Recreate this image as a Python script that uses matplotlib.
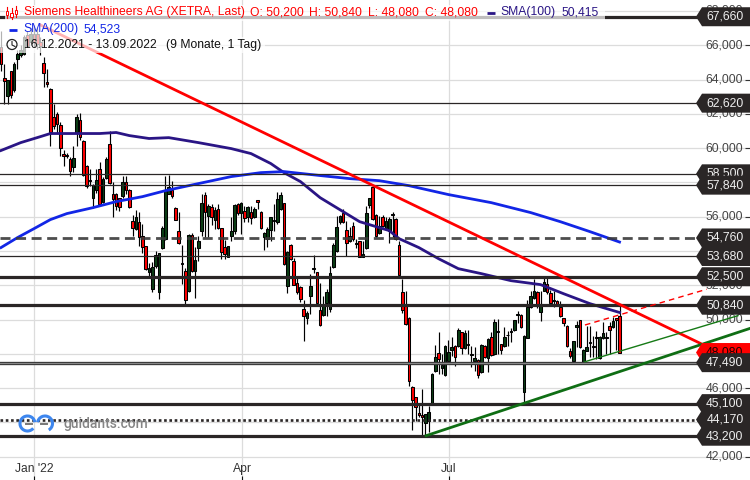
import matplotlib
matplotlib.use('Agg')
import matplotlib.pyplot as plt
from matplotlib.patches import Arc, Circle, Polygon, Rectangle

plt.rcParams['font.family'] = ['Liberation Sans', 'DejaVu Sans']

# daily candles, one value per trading day, 16.12.2021 - 13.09.2022
opens = [
    65890, 64100, 63010, 64490, 63360, 65200, 65400, 65500, 66570, 66180,
    66660, 66660, 66200, 64970, 63880, 63450, 61800, 62000, 61370, 59660,
    59620, 59370, 58880, 60870, 61610, 60440, 58960, 58140, 57080, 57560,
    58790, 56840, 58240, 60210, 57330, 57330, 57090, 57230, 58030, 57560,
    55770, 55290, 55690, 54880, 54290, 52800, 51780, 53150, 51590, 54180,
    54700, 57330, 57560, 56510, 55190, 53240, 52850, 51650, 54930, 52850,
    54150, 55190, 57290, 56060, 56550, 55810, 56450, 55340, 54220, 53670,
    54900, 55150, 56740, 56200, 56360, 55970, 56260, 55970, 56980, 56280,
    54800, 54700, 55230, 55770, 55670, 56450, 56800, 51940, 54370, 53420,
    52120, 51880, 50620, 50070, 51360, 52930, 52780, 50560, 50270, 50950,
    50620, 53050, 53980, 55670, 56200, 55230, 54600, 55480, 54390, 54570,
    53670, 54180, 56710, 57720, 56120, 55030, 55970, 55340, 55150, 56100,
    55870, 54370, 51630, 50910, 50090, 46090, 45460, 44550, 44450, 43950,
    44100, 45130, 47020, 48050, 47160, 46770, 47600, 48250, 48480, 48480,
    49260, 48340, 48500, 47910, 47600, 47640, 46920, 48480, 47760, 49000,
    47990, 49280, 48580, 48440, 49080, 49280, 49410, 50290, 50270, 45760,
    48930, 50710, 51240, 51590, 50420, 51690, 52080, 51550, 51070, 51100,
    50710, 50090, 49650, 48190, 47600, 49550, 49980, 47510, 48190, 48610,
    48420, 48910, 47760, 48910, 48930, 49650, 49550, 50090, 50200,
]
highs = [
    66800, 64910, 63980, 64490, 65000, 65700, 66000, 66600, 66800, 67000,
    67200, 67000, 66500, 65300, 64620, 63500, 62580, 62100, 61500, 59900,
    59700, 59500, 60150, 62000, 62050, 60500, 59000, 58790, 57900, 58790,
    59200, 58300, 59500, 61020, 58010, 57400, 57100, 58400, 58400, 57600,
    56120, 56390, 56260, 55580, 54300, 53280, 53340, 53980, 53900, 55480,
    58400, 58440, 58110, 56550, 56260, 54350, 53000, 55000, 55030, 54220,
    54900, 57330, 57430, 56740, 56740, 56590, 56740, 55340, 54640, 54290,
    55970, 56740, 56800, 56840, 56650, 56650, 56650, 56590, 57000, 56360,
    55130, 55380, 56000, 56740, 57460, 57430, 56800, 54000, 54410, 53590,
    52500, 51980, 51140, 50480, 52660, 53790, 52800, 52120, 51400, 51780,
    53150, 54450, 56060, 56100, 56450, 55770, 55420, 55670, 54700, 54600,
    54600, 56650, 57100, 57810, 56150, 56060, 56120, 56000, 56000, 56260,
    55900, 54570, 52370, 51650, 50130, 46150, 45500, 45070, 45950, 44500,
    44980, 46900, 48520, 49300, 47990, 48500, 48810, 49000, 48500, 49510,
    49300, 49390, 49390, 48480, 48380, 47700, 48600, 48500, 48910, 49300,
    50030, 50030, 48600, 49550, 49350, 49510, 50000, 50480, 50300, 49100,
    51140, 51690, 52370, 51650, 51650, 52430, 52430, 51750, 51690, 51150,
    51100, 50100, 49700, 48340, 48770, 49940, 50000, 48300, 49650, 49650,
    49060, 49310, 49050, 49840, 49260, 49840, 50130, 50100, 50840,
]
lows = [
    64500, 62580, 62580, 62950, 63300, 64620, 65300, 65400, 65900, 66000,
    65900, 65800, 65400, 63550, 63550, 60150, 61100, 60900, 59560, 58980,
    59400, 58360, 58590, 60110, 60500, 58400, 57700, 57810, 56510, 57370,
    56700, 56800, 58200, 57900, 56000, 56400, 56350, 57100, 57300, 56500,
    54900, 55200, 54310, 53870, 52900, 52400, 51590, 53000, 51200, 54100,
    54650, 57300, 57100, 55800, 54400, 52080, 50910, 51600, 52800, 51240,
    53400, 54900, 54800, 54800, 55500, 55290, 55300, 53540, 53540, 53650,
    54600, 54990, 56100, 54990, 55670, 55670, 55580, 55900, 56450, 55300,
    54080, 54220, 54570, 55150, 55600, 56400, 53200, 51530, 53500, 52000,
    51500, 51010, 48770, 49740, 50330, 52700, 50900, 49650, 50200, 50230,
    50420, 53000, 53950, 55600, 55650, 53730, 54500, 54600, 54200, 53650,
    53650, 54100, 56500, 55800, 54800, 55000, 55400, 55300, 54450, 54840,
    54650, 52550, 50360, 49700, 46140, 43560, 44100, 44300, 43130, 43190,
    43460, 45100, 46950, 46820, 46820, 46700, 47550, 47900, 47270, 48400,
    47990, 48300, 48000, 47210, 47000, 46590, 46900, 47750, 46920, 47900,
    47950, 47990, 47990, 48400, 48480, 48700, 49350, 49800, 49500, 45170,
    48900, 50650, 51200, 50700, 49940, 51650, 51500, 50900, 50710, 50780,
    50150, 49650, 48400, 47760, 47500, 48380, 48350, 47490, 48150, 47800,
    47800, 47700, 47700, 48850, 47990, 47990, 49500, 48200, 48080,
]
closes = [
    64910, 63940, 63980, 63070, 64910, 65500, 65700, 66470, 65980, 66660,
    66180, 66080, 65950, 64370, 63750, 60950, 61300, 61410, 60010, 59550,
    59550, 58690, 59430, 61840, 60670, 58440, 57810, 58070, 57870, 58140,
    56740, 58200, 59370, 57950, 57020, 56650, 56550, 58030, 57560, 56550,
    55340, 56000, 54840, 54220, 52950, 53000, 53090, 53770, 53890, 55320,
    57520, 57750, 57190, 55810, 54450, 53300, 51140, 54930, 52850, 53480,
    54600, 56820, 56260, 56650, 56010, 56390, 55320, 53920, 53830, 54290,
    55190, 56690, 56200, 56780, 55910, 56590, 55930, 56450, 56840, 55340,
    55030, 55310, 56000, 55810, 57040, 57290, 53240, 53960, 53540, 52040,
    51590, 51180, 50190, 50380, 51960, 53010, 50950, 49680, 50810, 51590,
    52720, 54370, 55420, 56060, 55670, 54450, 54900, 54700, 54470, 53670,
    53830, 56220, 57090, 55870, 54860, 55480, 55480, 55770, 55870, 56160,
    54700, 52620, 50560, 49740, 46440, 45310, 44880, 44430, 44300, 44490,
    44630, 46820, 47840, 47700, 47350, 48480, 48130, 48420, 47800, 49390,
    48340, 49220, 48580, 47990, 47760, 46790, 48540, 47800, 48870, 47930,
    49880, 49350, 48230, 49000, 49120, 49330, 49980, 50330, 49550, 49040,
    50710, 51400, 51690, 50810, 50910, 52210, 51590, 50950, 51140, 50810,
    50190, 49820, 48440, 47890, 48730, 49700, 48380, 48240, 48420, 48710,
    48480, 49000, 49000, 49240, 48980, 49410, 49900, 49980, 48080,
]

# moving averages, read at a few days along the line
sma100_days = [0, 6, 12, 15, 30, 35, 39, 45, 51, 60, 70, 76, 82, 86, 91, 97,
               103, 109, 118, 121, 127, 133, 139, 146, 155, 164, 171, 179, 188]
sma100 = [59860, 60320, 60670, 60850, 60850, 60910, 60730, 60560, 60610, 60320,
          59970, 59680, 59100, 58570, 58050, 57110, 56410, 55710, 55190, 54720,
          54200, 53550, 52970, 52680, 52270, 52040, 51510, 50930, 50415]
sma200_days = [0, 5, 10, 15, 20, 28, 35, 43, 50, 60, 70, 79, 86, 97, 106, 115,
               124, 136, 149, 161, 170, 179, 188]
sma200 = [54200, 54780, 55300, 55830, 56180, 56530, 56880, 57170, 57520, 57930,
          58340, 58570, 58630, 58400, 58220, 58100, 57810, 57290, 56820, 56240,
          55710, 55130, 54523]

# horizontal levels, top to bottom
level_prices = [67660, 62620, 58500, 57840, 54760, 53680, 52500, 50840, 47490, 45100, 44170, 43200]
level_labels = ['67,660', '62,620', '58,500', '57,840', '54,760', '53,680', '52,500', '50,840',
                '47,490', '45,100', '44,170', '43,200']
thin_levels = [62620, 58500, 57840, 53680]
thick_levels = [67660, 52500, 50840, 45100, 43200]

last_price = 48080
last_label = '48,080'

y_ticks = [68000, 66000, 64000, 62000, 60000, 58000, 56000, 54000, 52000, 50000, 48000, 46000, 44000, 42000]
y_labels = ['68,000', '66,000', '64,000', '62,000', '60,000', '58,000', '56,000', '54,000',
            '52,000', '50,000', '48,000', '46,000', '44,000', '42,000']
x_ticks = [10.1, 73.4, 136.1]
x_labels = ["Jan '22", 'Apr', 'Jul']

# trend lines as (day, price) pairs
red_days, red_prices = [12, 212.5], [67180, 48620]
red_dash_days, red_dash_prices = [177.5, 214.5], [49685, 51770]
green_thin_days, green_thin_prices = [177.5, 224], [47545, 50230]
green_thick_days, green_thick_prices = [129.2, 227.7], [43230, 49490]

c_red = '#ff0000'
c_green = '#0b3d14'
c_sma100 = '#2a1585'
c_sma200 = '#1226e6'
c_dark = '#2a2626'

# scale of the picture in pixels
PX_PER_DAY = 3.29
PX_PER_UNIT = 0.01715


def y_px(price):
    return 45.2 + (66000 - price) * PX_PER_UNIT


fig = plt.figure(figsize=(7.5, 4.8), dpi=100)
ax = fig.add_axes([0, 0, 1, 1])
ax.set_xlim(-1 / PX_PER_DAY, (750 - 1) / PX_PER_DAY)
ax.set_ylim(66000 - (480 - 45.2) / PX_PER_UNIT, 66000 + 45.2 / PX_PER_UNIT)

for s in ax.spines.values():
    s.set_visible(False)
ax.set_axisbelow(True)
ax.grid(True, color='#dcdcdc', linewidth=0.9)
ax.yaxis.tick_right()
ax.set_yticks(y_ticks)
ax.set_yticklabels(y_labels, fontsize=8.7, color='#444444', ha='right', va='center')
ax.set_xticks(x_ticks)
ax.set_xticklabels(x_labels, fontsize=8.7, color='#333333', va='bottom')
ax.tick_params(axis='y', direction='in', length=3.5, width=0.8, color='#333333', pad=-5)
ax.tick_params(axis='x', direction='in', length=3, width=0.8, color='#111111', pad=-3.8)

# candles
days = list(range(len(opens)))
ax.vlines(days, lows, highs, color='black', linewidth=0.85, zorder=3)
tops = [max(o, c) for o, c in zip(opens, closes)]
bottoms = [min(o, c) for o, c in zip(opens, closes)]
colors = [c_red if c < o else c_green for o, c in zip(opens, closes)]
ax.bar(days, [t - b for t, b in zip(tops, bottoms)], bottom=bottoms, width=0.8,
       color=colors, edgecolor='black', linewidth=0.75, zorder=3)

ax.plot(sma100_days, sma100, color=c_sma100, linewidth=2.0, zorder=4)
ax.plot(sma200_days, sma200, color=c_sma200, linewidth=2.0, zorder=4)

# levels
for p in level_prices:
    if p in thin_levels:
        ax.axhline(p, color=c_dark, linewidth=0.9, zorder=5)
    elif p in thick_levels:
        ax.axhline(p, color=c_dark, linewidth=2.3, zorder=5)
    elif p == 54760:
        ax.axhline(p, color='#3a3a3a', linewidth=2.0, dashes=(3.6, 2.0), alpha=0.9, zorder=5)
    elif p == 44170:
        ax.axhline(p, color=c_dark, linewidth=1.9, dashes=(1.0, 1.0), zorder=5)
    else:
        ax.axhline(p, color='#3c3c3c', linewidth=2.4, zorder=5)
        ax.axhline(p, color='#8a8a8a', linewidth=0.7, zorder=5)

ax.plot(red_days, red_prices, color=c_red, linewidth=2.0, zorder=6)
ax.plot(red_dash_days, red_dash_prices, color=c_red, linewidth=1.0, dashes=(4, 3), zorder=6)
ax.plot(green_thin_days, green_thin_prices, color='#167a16', linewidth=1.0, zorder=6)
ax.plot(green_thick_days, green_thick_prices, color='#0f6e14', linewidth=2.0, zorder=6)

# overlay in pixel coordinates for tags and legend
ov = fig.add_axes([0, 0, 1, 1])
ov.set_xlim(0, 750)
ov.set_ylim(480, 0)
ov.axis('off')
ov.patch.set_alpha(0)


def tag(price, label, face, text_color, z):
    # each tag sits on top of the one before it, text included
    y = y_px(price)
    pts = [(750, y - 9.5), (702, y - 9.5), (696, y), (702, y + 9.5), (750, y + 9.5)]
    ov.add_patch(Polygon(pts, closed=True, facecolor=face, edgecolor='none', zorder=z))
    ov.text(743.5, y, label, ha='right', va='center', fontsize=8.7, color=text_color, zorder=z + 0.5)


# the last price goes under its neighbour 47,490
z = 5
for p, lab in zip(level_prices, level_labels):
    if p == 47490:
        tag(last_price, last_label, c_red, '#1a0000', z)
        z += 1
    tag(p, lab, c_dark, '#eeeeee', z)
    z += 1

# legend rows, white veil over the chart
ov.add_patch(Rectangle((5, 5), 600, 15.5, facecolor='white', alpha=0.7, edgecolor='none', zorder=2))
ov.add_patch(Rectangle((0, 21), 125, 16, facecolor='white', alpha=0.7, edgecolor='none', zorder=2))
ov.add_patch(Rectangle((0, 37), 265, 16, facecolor='white', alpha=0.7, edgecolor='none', zorder=2))

row1 = [(23.5, 'Siemens Healthineers AG (XETRA, Last)'), (250, 'O: 50,200'), (309, 'H: 50,840'),
        (368, 'L: 48,080'), (425, 'C: 48,080')]
for x, t in row1:
    ov.text(x, 12.5, t, color=c_red, fontsize=8.7, va='center')
ov.plot([487, 495], [13, 13], color=c_sma100, linewidth=2.0, solid_capstyle='butt')
ov.text(500, 12.5, 'SMA(100)', color=c_sma100, fontsize=8.7, va='center')
ov.text(561, 12.5, '50,415', color=c_sma100, fontsize=8.7, va='center')

ov.plot([9, 17], [29.5, 29.5], color=c_sma200, linewidth=2.0, solid_capstyle='butt')
ov.text(23.5, 29, 'SMA(200)', color=c_sma200, fontsize=8.7, va='center')
ov.text(84, 29, '54,523', color=c_sma200, fontsize=8.7, va='center')

ov.text(23.5, 45, '16.12.2021 - 13.09.2022', color='#111111', fontsize=8.7, va='center')
ov.text(166, 45, '(9 Monate, 1 Tag)', color='#111111', fontsize=8.7, va='center')

# clock icon
ov.add_patch(Circle((12, 44.5), 5, facecolor='none', edgecolor='#222222', linewidth=0.9, zorder=3))
ov.plot([12, 12, 15], [41.5, 45, 46.5], color='#222222', linewidth=0.8)

# instrument icon
for x, y0, y1, b0, b1 in [(7, 7, 18, 11, 15), (11.5, 8, 19, 13, 17), (16, 6, 17, 10, 14)]:
    ov.plot([x, x], [y0, y1], color=c_red, linewidth=0.8, zorder=3)
    ov.add_patch(Rectangle((x - 1.2, b0), 2.4, b1 - b0, facecolor='white', edgecolor=c_red,
                           linewidth=0.7, zorder=3.5))

# watermark
c_logo = '#3d86ee'
ov.add_patch(Arc((27.5, 423.5), 15, 15, theta1=40, theta2=350, color=c_logo, linewidth=2.2))
ov.add_patch(Arc((45, 423.5), 15, 15, theta1=190, theta2=60, color=c_logo, linewidth=2.2))
ov.plot([26, 32], [424, 424], color='#777777', linewidth=1.4)
ov.plot([41, 47], [424, 424], color='#777777', linewidth=1.4)
ov.text(63, 424, 'guidants.com', color='#858585', fontsize=10, family='Roboto',
        fontweight='medium', va='center')

plt.savefig('out.png', dpi=100)
